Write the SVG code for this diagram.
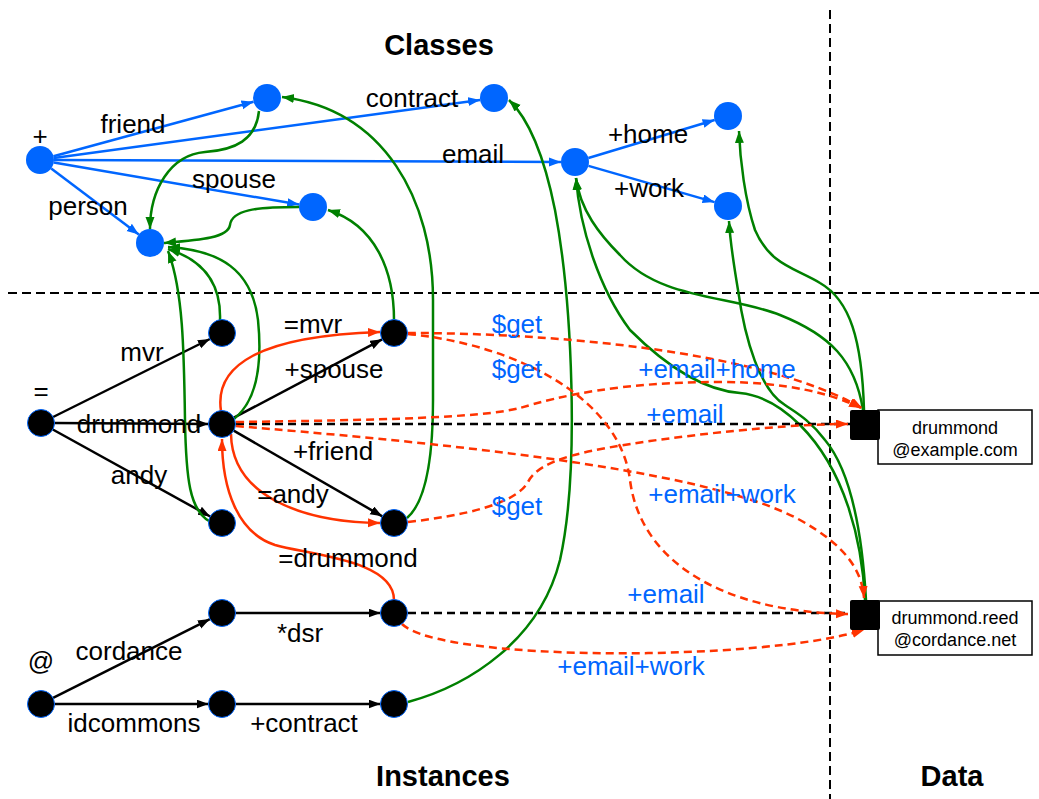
<svg xmlns="http://www.w3.org/2000/svg" width="1039" height="799" viewBox="0 0 1039 799">
<style>
text{font-family:"Liberation Sans",Arial,sans-serif;font-size:26px;fill:#000;text-anchor:middle}
.t{font-size:29px;font-weight:bold}
.b{fill:#0066ff}
.s{font-size:18px}
.cn{fill:#0066ff}
.in{fill:#000;stroke:#0066ff;stroke-width:1}
.eb{stroke:#0066ff;stroke-width:2.5;fill:none;marker-end:url(#ab)}
.ek{stroke:#000;stroke-width:2.5;fill:none;marker-end:url(#ak)}
.eg{stroke:#008000;stroke-width:2.5;fill:none;marker-end:url(#ag)}
.er{stroke:#ff3300;stroke-width:2.5;fill:none;marker-end:url(#ar)}
.ed{stroke:#ff3300;stroke-width:2.5;fill:none;stroke-dasharray:8,5;marker-end:url(#ar)}
.kd{stroke:#000;stroke-width:2.5;fill:none;stroke-dasharray:8,5}
.div{stroke:#000;stroke-width:2;fill:none;stroke-dasharray:9,5}
</style>
<defs>
<marker id="ab" markerUnits="userSpaceOnUse" markerWidth="13" markerHeight="10" refX="12" refY="4.5" orient="auto"><path d="M0,0 L12,4.5 L0,9 z" fill="#0066ff"/></marker>
<marker id="ak" markerUnits="userSpaceOnUse" markerWidth="13" markerHeight="10" refX="12" refY="4.5" orient="auto"><path d="M0,0 L12,4.5 L0,9 z" fill="#000"/></marker>
<marker id="ag" markerUnits="userSpaceOnUse" markerWidth="13" markerHeight="10" refX="12" refY="4.5" orient="auto"><path d="M0,0 L12,4.5 L0,9 z" fill="#008000"/></marker>
<marker id="ar" markerUnits="userSpaceOnUse" markerWidth="13" markerHeight="10" refX="12" refY="4.5" orient="auto"><path d="M0,0 L12,4.5 L0,9 z" fill="#ff3300"/></marker>
</defs>
<rect width="1039" height="799" fill="#fff"/>
<g id="dividers">
<path class="div" d="M8,293 L1039,293"/>
<path class="div" d="M830,10 L830,799"/>
</g>
<g id="titles">
<text class="t" x="439" y="55">Classes</text>
<text class="t" x="443" y="786">Instances</text>
<text class="t" x="952" y="786">Data</text>
</g>
<g id="connectors">
<path class="eb" d="M53.5,156.3 L253.5,101.7"/>
<path class="eb" d="M53.9,158.1 L480.1,99.9"/>
<path class="eb" d="M54,160 L561,162"/>
<path class="eb" d="M53.8,162.4 L299.2,204.6"/>
<path class="eb" d="M51.2,168.4 L138.8,234.6"/>
<path class="eb" d="M588.4,158 L714.6,120"/>
<path class="eb" d="M588.5,165.9 L714.5,202.1"/>
<path class="ek" d="M53.1,417 L209.9,339"/>
<path class="ek" d="M54.5,423 L208.5,424"/>
<path class="ek" d="M52.8,429.5 L210.2,516.5"/>
<path class="ek" d="M233.9,417.7 L382.1,339.3"/>
<path class="ek" d="M233.7,430.7 L382.3,516.3"/>
<path class="ek" d="M53.1,697.9 L209.9,619.1"/>
<path class="ek" d="M54.5,704 L208.5,704"/>
<path class="ek" d="M235.5,613 L380.5,613"/>
<path class="ek" d="M235.5,704 L380.5,704"/>
<path class="eg" d="M259,111 C256,140 235,150 205,152 C170,155 150,190 150,229"/>
<path class="eg" d="M299,207 C255,207 232,210 230,225 C228,238 200,240 164,243"/>
<path class="eg" d="M220,320 C221,290 210,262 168,249"/>
<path class="eg" d="M209,521 C190,510 186,480 185,420 C184,350 183,290 168,251"/>
<path class="eg" d="M234,419 C258,400 262,360 258,320 C252,270 220,250 168,247"/>
<path class="eg" d="M394,320 C394,270 375,225 328,210"/>
<path class="eg" d="M407,518 C428,500 433,450 433,400 L433,300 C433,200 385,110 282,97"/>
<path class="eg" d="M408,702 C470,685 540,640 560,560 C580,470 572,300 555,210 C545,160 530,120 509,100"/>
<path class="eg" d="M863,410 C855,360 830,335 780,315 C730,295 660,300 620,255 C600,235 580,210 576,178"/>
<path class="eg" d="M865,600 C862,540 845,470 800,425 C780,405 760,395 740,393 C700,390 660,360 630,330 C600,290 580,230 576,178"/>
<path class="eg" d="M864,410 C862,340 850,300 820,283 C795,268 770,265 755,230 C745,200 740,160 739,131"/>
<path class="eg" d="M866,600 C862,530 850,470 825,440 C810,420 795,412 785,405 C760,390 745,340 738,290 C733,260 730,240 729,221"/>
<path class="kd" d="M236,424 L850,424"/>
<path class="kd" d="M408,613 L850,613"/>
<path class="er" d="M221,411 C214,365 260,336 380,332"/>
<path class="er" d="M231,434 C232,495 300,522 380,523"/>
<path class="er" d="M394,600 C394,560 310,555 275,545 C238,533 222,490 222,439"/>
<path class="ed" d="M408,333 C550,333 760,350 862,408"/>
<path class="ed" d="M408,334 C520,345 620,400 630,480 C640,560 720,612 848,614"/>
<path class="ed" d="M236,422 C380,420 480,418 520,408 C560,396 620,382 720,382 C790,382 835,395 861,408"/>
<path class="ed" d="M236,426 C400,440 700,465 800,520 C845,545 862,570 864,598"/>
<path class="ed" d="M408,522 C460,516 515,505 528,482 C540,458 590,450 650,441 C730,430 800,424 848,424"/>
<path class="ed" d="M402,624 C440,662 760,662 864,630"/>
</g>
<g id="edge-labels">
<text x="40" y="145">+</text>
<text x="133" y="133">friend</text>
<text x="412" y="107">contract</text>
<text x="473" y="163">email</text>
<text x="234" y="188">spouse</text>
<text x="88" y="215">person</text>
<text x="648" y="143">+home</text>
<text x="649" y="197">+work</text>
<text x="41" y="400">=</text>
<text x="142" y="361">mvr</text>
<text x="139" y="433">drummond</text>
<text x="139" y="484">andy</text>
<text x="313" y="333">=mvr</text>
<text x="334" y="378">+spouse</text>
<text x="333" y="460">+friend</text>
<text x="293" y="503">=andy</text>
<text x="348" y="567">=drummond</text>
<text x="41" y="670">@</text>
<text x="129" y="660">cordance</text>
<text x="134" y="732">idcommons</text>
<text x="300" y="642">*dsr</text>
<text x="304" y="732">+contract</text>
<text class="b" x="517" y="333">$get</text>
<text class="b" x="517" y="378">$get</text>
<text class="b" x="717" y="378">+email+home</text>
<text class="b" x="685" y="423">+email</text>
<text class="b" x="722" y="503">+email+work</text>
<text class="b" x="517" y="515">$get</text>
<text class="b" x="666" y="603">+email</text>
<text class="b" x="631" y="675">+email+work</text>
</g>
<g id="class-plus"><circle class="cn" cx="40" cy="160" r="14"/></g>
<g id="class-friend"><circle class="cn" cx="267" cy="98" r="14"/></g>
<g id="class-contract"><circle class="cn" cx="494" cy="98" r="14"/></g>
<g id="class-person"><circle class="cn" cx="150" cy="243" r="14"/></g>
<g id="class-spouse"><circle class="cn" cx="313" cy="207" r="14"/></g>
<g id="class-email"><circle class="cn" cx="575" cy="162" r="14"/></g>
<g id="class-home"><circle class="cn" cx="728" cy="116" r="14"/></g>
<g id="class-work"><circle class="cn" cx="728" cy="206" r="14"/></g>
<g id="inst-eq"><circle class="in" cx="41" cy="423" r="13.5"/></g>
<g id="inst-mvr"><circle class="in" cx="222" cy="333" r="13.5"/></g>
<g id="inst-drummond"><circle class="in" cx="222" cy="424" r="13.5"/></g>
<g id="inst-andy"><circle class="in" cx="222" cy="523" r="13.5"/></g>
<g id="inst-spouse"><circle class="in" cx="394" cy="333" r="13.5"/></g>
<g id="inst-friend"><circle class="in" cx="394" cy="523" r="13.5"/></g>
<g id="inst-at"><circle class="in" cx="41" cy="704" r="13.5"/></g>
<g id="inst-cordance"><circle class="in" cx="222" cy="613" r="13.5"/></g>
<g id="inst-idcommons"><circle class="in" cx="222" cy="704" r="13.5"/></g>
<g id="inst-dsr"><circle class="in" cx="394" cy="613" r="13.5"/></g>
<g id="inst-contract"><circle class="in" cx="394" cy="704" r="13.5"/></g>
<g id="data-example">
<rect x="878" y="410" width="154" height="54" fill="#fff" stroke="#000" stroke-width="1.5"/>
<rect x="850" y="410" width="30" height="30" rx="2" fill="#000"/>
<text class="s" x="955" y="434">drummond</text>
<text class="s" x="955" y="456">@example.com</text>
</g>
<g id="data-cordance">
<rect x="878" y="601" width="154" height="54" fill="#fff" stroke="#000" stroke-width="1.5"/>
<rect x="850" y="600" width="30" height="30" rx="2" fill="#000"/>
<text class="s" x="955" y="624">drummond.reed</text>
<text class="s" x="955" y="646">@cordance.net</text>
</g>
</svg>
